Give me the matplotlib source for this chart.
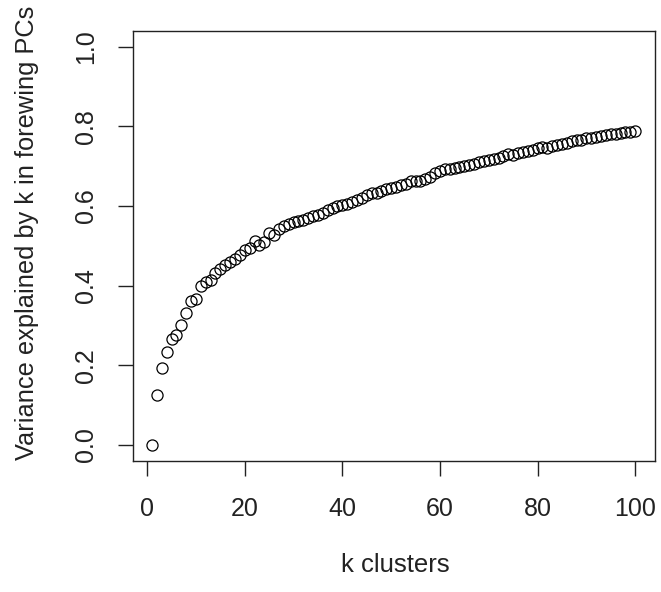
import matplotlib
matplotlib.use("Agg")
import matplotlib.pyplot as plt

# k clusters and cumulative variance explained
k = list(range(1, 101))
variance = [
    0.000, 0.124, 0.193, 0.232, 0.267, 0.276, 0.302, 0.330, 0.362, 0.366,
    0.398, 0.410, 0.414, 0.433, 0.443, 0.452, 0.459, 0.468, 0.478, 0.490,
    0.494, 0.512, 0.503, 0.509, 0.533, 0.527, 0.543, 0.549, 0.556, 0.560,
    0.563, 0.566, 0.570, 0.575, 0.577, 0.583, 0.590, 0.595, 0.600, 0.603,
    0.606, 0.610, 0.616, 0.621, 0.627, 0.632, 0.634, 0.638, 0.642, 0.645,
    0.648, 0.652, 0.656, 0.662, 0.664, 0.663, 0.668, 0.672, 0.684, 0.689,
    0.692, 0.694, 0.696, 0.699, 0.700, 0.702, 0.705, 0.710, 0.714, 0.716,
    0.719, 0.722, 0.725, 0.731, 0.728, 0.733, 0.735, 0.738, 0.742, 0.745,
    0.748, 0.746, 0.752, 0.754, 0.756, 0.759, 0.764, 0.766, 0.767, 0.770,
    0.772, 0.774, 0.776, 0.778, 0.780, 0.782, 0.784, 0.786, 0.787, 0.788,
]
xticks = [0, 20, 40, 60, 80, 100]
yticks = [0.0, 0.2, 0.4, 0.6, 0.8, 1.0]
ytick_labels = ["0.0", "0.2", "0.4", "0.6", "0.8", "1.0"]

plt.rcParams['font.family'] = ['Liberation Sans', 'DejaVu Sans']

fig = plt.figure(figsize=(6.61, 5.92), dpi=100)
ax = fig.add_axes([132.7 / 661, 1 - 460.7 / 592, (654.5 - 132.7) / 661, (460.7 - 31) / 592])

ax.plot(k, variance, linestyle='none', marker='o', markersize=8,
        markerfacecolor='none', markeredgecolor='black', markeredgewidth=0.9)

ax.set_xlim(-2.96, 103.96)
ax.set_ylim(-0.04, 1.04)
ax.set_xticks(xticks)
ax.set_yticks(yticks)
ax.set_yticklabels(ytick_labels, rotation=90, va='center')
ax.tick_params(axis='both', direction='out', length=11, width=1, labelsize=18,
               color='#222222', labelcolor='#222222')
ax.tick_params(axis='x', pad=15)
ax.tick_params(axis='y', pad=14)

for s in ax.spines.values():
    s.set_linewidth(1)
    s.set_color('#222222')

ax.set_xlabel("k clusters", fontsize=18.5, color='#222222', va='center')
ax.set_ylabel("Variance explained by k in forewing PCs", fontsize=18.3,
              color='#222222', va='center')
ax.xaxis.set_label_coords(0.503, -0.243)
ax.yaxis.set_label_coords(-0.203, 0.53)

fig.savefig("out.png", dpi=100)
